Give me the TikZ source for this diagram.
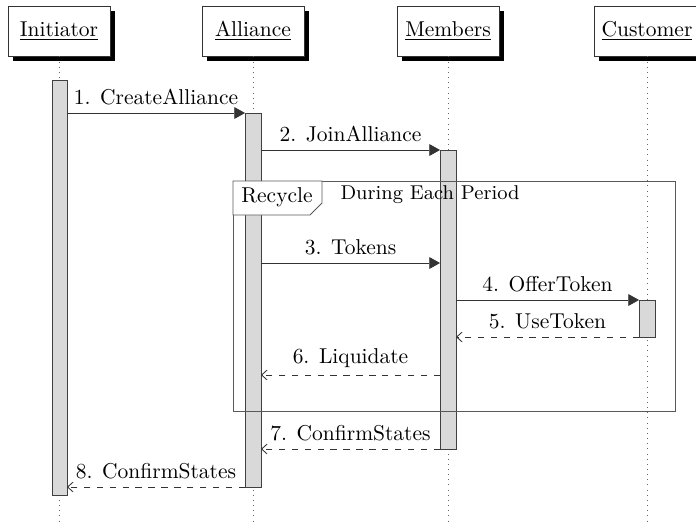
\documentclass[tikz,border=0pt]{standalone}
\usetikzlibrary{arrows.meta,shadows}

\tikzset{
  actor/.style={draw=black!80,fill=white,minimum width=47.5pt,minimum height=23.3pt,
    drop shadow={shadow xshift=2.3pt,shadow yshift=-2.3pt,fill=black,opacity=1}},
  life/.style={dotted,black!60},
  bar/.style={draw=black!75,fill=black!15},
  call/.style={draw=black!80,-{Triangle[length=5pt,width=5.5pt]}},
  reply/.style={draw=black!80,dashed,-{Straight Barb[length=2.5pt,width=4.5pt]}},
  frm/.style={draw=black!65}
}

\begin{document}
\begin{tikzpicture}[x=0.01635cm,y=-0.01635cm,text centered]
\useasboundingbox (0,0) rectangle (696,523);

%% headers and lifelines
\node (059031) at (59,31) [actor] {\underline{Initiator}};
\node (253031) at (253,31) [actor] {\underline{Alliance}};
\node (448031) at (448,31) [actor] {\underline{Members}};
\node (647031) at (647,31) [actor] {\underline{Customer}};
\draw[life] (059031.south) -- (059031.south |- 0,523);
\draw[life] (253031.south) -- (253031.south |- 0,523);
\draw[life] (448031.south) -- (448031.south |- 0,523);
\draw[life] (647031.south) -- (647031.south |- 0,523);

%% activations
\draw[bar] (52,80) rectangle (67,495);
\draw[bar] (245,113) rectangle (261,487);
\draw[bar] (440,150) rectangle (456,449);
\draw[bar] (639,300) rectangle (655,337);

%% frame
\draw[frm] (233,181) rectangle (675,411);
\draw[frm,fill=white] (233,181) -- (322,181) -- (322,203) -- (310,215) -- (233,215) -- cycle;
\node (277197) at (277,197) {Recycle};
\node (430195) at (430,195) [font=\fontsize{9.3}{11}\selectfont] {During Each Period};

%% messages
\coordinate (067113) at (67,113);
\coordinate (245113) at (245,113);
\draw[call] (067113) -- node[above] {1. CreateAlliance} (245113);
\coordinate (261150) at (261,150);
\coordinate (440150) at (440,150);
\draw[call] (261150) -- node[above] {2. JoinAlliance} (440150);
\coordinate (261263) at (261,263);
\coordinate (440263) at (440,263);
\draw[call] (261263) -- node[above] {3. Tokens} (440263);
\coordinate (456300) at (456,300);
\coordinate (639300) at (639,300);
\draw[call] (456300) -- node[above] {4. OfferToken} (639300);
\coordinate (639337) at (639,337);
\coordinate (456337) at (456,337);
\draw[reply] (639337) -- node[above] {5. UseToken} (456337);
\coordinate (440375) at (440,375);
\coordinate (261375) at (261,375);
\draw[reply] (440375) -- node[above] {6. Liquidate} (261375);
\coordinate (440449) at (440,449);
\coordinate (261449) at (261,449);
\draw[reply] (440449) -- node[above] {7. ConfirmStates} (261449);
\coordinate (245487) at (245,487);
\coordinate (067487) at (67,487);
\draw[reply] (245487) -- node[above] {8. ConfirmStates} (067487);

\end{tikzpicture}
\end{document}
